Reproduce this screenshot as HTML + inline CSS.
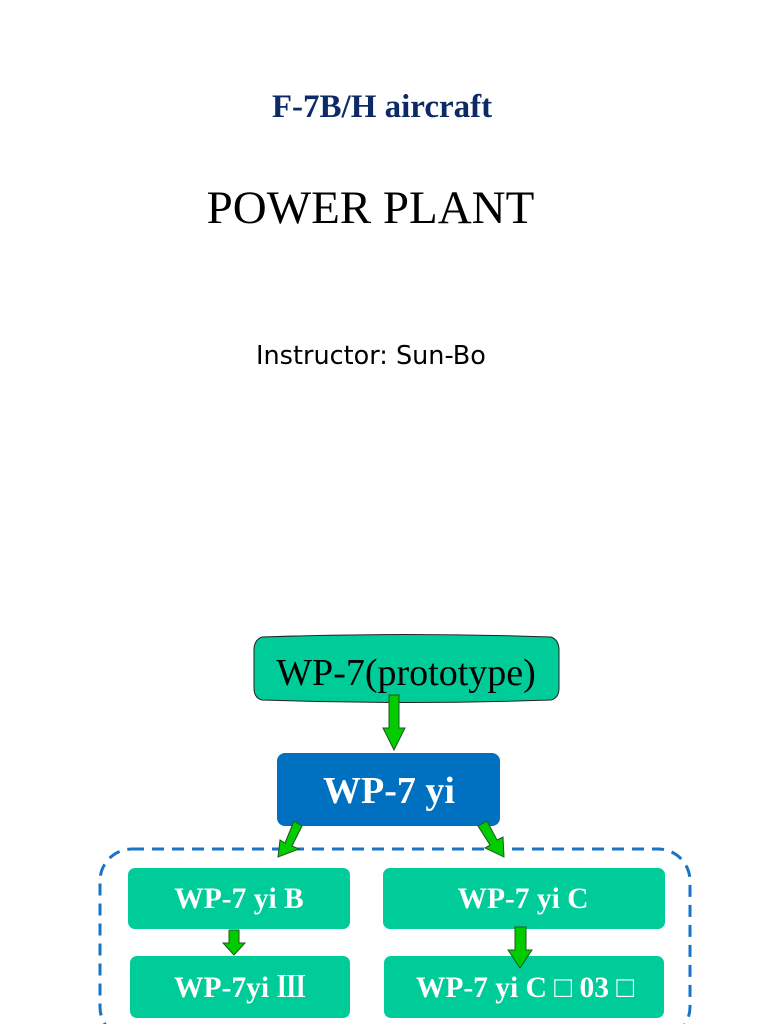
<!DOCTYPE html>
<html><head><meta charset="utf-8"><style>
body{margin:0;width:768px;height:1024px;background:#fff;position:relative;overflow:hidden}
.t{position:absolute;white-space:nowrap}
</style></head><body>
<div class="t" style="left:0;width:764px;top:89px;text-align:center;font:bold 33px 'Liberation Serif',serif;color:#0b2a66">F-7B/H aircraft</div>
<div class="t" style="left:0;width:741px;top:181px;text-align:center;font:47px 'Liberation Serif',serif;color:#000">POWER PLANT</div>
<div class="t" style="left:256px;top:341px;font:25.5px 'DejaVu Sans','Liberation Sans',sans-serif;color:#000">Instructor: Sun-Bo</div>
<svg width="768" height="1024" style="position:absolute;left:0;top:0">
<rect x="100" y="849" width="590" height="190" rx="32" fill="none" stroke="#1a73c6" stroke-width="3" stroke-dasharray="12,8"/>
<path d="M262,637 Q406,632 551,637 Q559,640 559,650 L559,688 Q559,698 551,700 Q406,705 262,700 Q254,698 254,688 L254,650 Q254,640 262,637Z" fill="#00cc99" stroke="#222" stroke-width="1"/>
<text x="406" y="685" text-anchor="middle" font-family="Liberation Serif,serif" font-size="38">WP-7(prototype)</text>
<rect x="277" y="753" width="223" height="73" rx="8" fill="#0070c0"/>
<text x="389" y="803" text-anchor="middle" font-family="Liberation Serif,serif" font-weight="bold" font-size="38" fill="#fff">WP-7 yi</text>
<rect x="128" y="868" width="222" height="61" rx="7" fill="#00cc99"/>
<rect x="383" y="868" width="282" height="61" rx="7" fill="#00cc99"/>
<rect x="130" y="956" width="220" height="62" rx="7" fill="#00cc99"/>
<rect x="384" y="956" width="280" height="62" rx="7" fill="#00cc99"/>
<g font-family="Liberation Serif,'Noto Serif CJK SC',serif" font-weight="bold" font-size="29.5" fill="#fff" text-anchor="middle">
<text x="239" y="908">WP-7 yi B</text>
<text x="523" y="908">WP-7 yi C</text>
<text x="240" y="997">WP-7yi Ⅲ</text>
<text x="525" y="997">WP-7 yi C □ 03 □</text>
</g>
<g fill="#00cc00" stroke="#225522" stroke-width="1">
<polygon points="389,695 399,695 399,728 405,728 394,750 383,728 389,728"/>
<polygon points="294,821 302,826 292,846 299,849 278,857 280,840 285,843"/>
<polygon points="478,826 487,821 497,840 503,837 504,857 485,848 490,845"/>
<polygon points="229,930 239,930 239,943 245,943 234,955 223,943 229,943"/>
<polygon points="515,927 526,927 526,950 532,950 520,968 508,950 515,950"/>
</g>
</svg>
</body></html>
